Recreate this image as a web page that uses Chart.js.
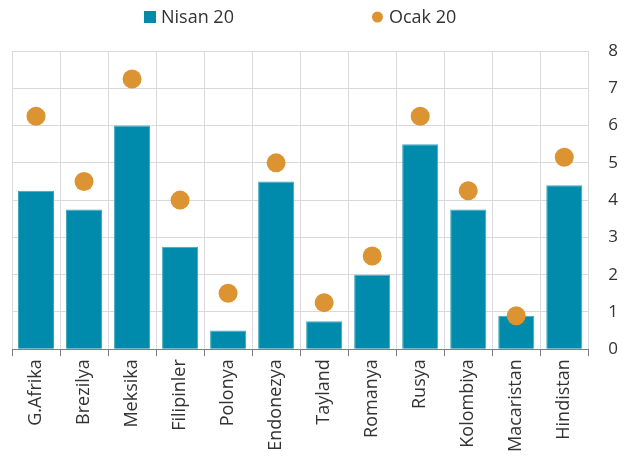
<!DOCTYPE html>
<html>
<head>
<meta charset="utf-8">
<script src="https://cdn.jsdelivr.net/npm/chart.js@4"></script>
<style>
  html, body { margin: 0; padding: 0; background: #fff; }
  #wrap { width: 638px; height: 461px; }
</style>
</head>
<body>
<div id="wrap"><canvas id="chart"></canvas></div>
<script>
const categories = ['G.Afrika', 'Brezilya', 'Meksika', 'Filipinler', 'Polonya', 'Endonezya',
  'Tayland', 'Romanya', 'Rusya', 'Kolombiya', 'Macaristan', 'Hindistan'];
const nisan20 = [4.25, 3.75, 6.0, 2.75, 0.5, 4.5, 0.75, 2.0, 5.5, 3.75, 0.9, 4.4];
const ocak20 = [6.25, 4.5, 7.25, 4.0, 1.5, 5.0, 1.25, 2.5, 6.25, 4.25, 0.9, 5.15];
const yTicks = [0, 1, 2, 3, 4, 5, 6, 7, 8];

const textColor = '#333333';
const barColor = '#008aab';
const dotColor = '#dc9432';

// legend drawn by hand: the built-in one can't leave a wide gap between items
const topLegend = {
  id: 'topLegend',
  afterDraw(chart) {
    const ctx = chart.ctx;
    const area = chart.chartArea;
    const items = [
      { text: chart.data.datasets[1].label, color: barColor, shape: 'rect' },
      { text: chart.data.datasets[0].label, color: dotColor, shape: 'circle' }
    ];
    const gap = 138;
    ctx.save();
    ctx.font = '18px "Open Sans"';
    ctx.textBaseline = 'middle';
    const widths = items.map(it => 17 + ctx.measureText(it.text).width);
    const total = widths.reduce((a, b) => a + b, 0) + gap;
    let x = (area.left + area.right) / 2 - total / 2;
    const y = 17;
    items.forEach((it, i) => {
      ctx.fillStyle = it.color;
      if (it.shape === 'rect') {
        ctx.fillRect(x, y - 6, 12, 12);
      } else {
        ctx.beginPath();
        ctx.arc(x + 5.5, y, 5.5, 0, Math.PI * 2);
        ctx.fill();
      }
      ctx.fillStyle = textColor;
      ctx.fillText(it.text, x + 17, y + 1);
      x += widths[i] + gap;
    });
    ctx.restore();
  }
};

// dots come first so they are painted over the bars
new Chart(document.getElementById('chart'), {
  data: {
    labels: categories,
    datasets: [
      {
        type: 'line',
        label: 'Ocak 20',
        data: ocak20,
        showLine: false,
        pointStyle: 'circle',
        pointRadius: 9.5,
        pointBackgroundColor: dotColor,
        pointBorderWidth: 0,
        backgroundColor: dotColor,
        borderColor: dotColor
      },
      {
        type: 'bar',
        label: 'Nisan 20',
        data: nisan20,
        backgroundColor: barColor,
        borderColor: '#3ea6bf',
        borderWidth: 1,
        barPercentage: 0.75,
        categoryPercentage: 1
      }
    ]
  },
  options: {
    responsive: true,
    maintainAspectRatio: false,
    animation: false,
    layout: { padding: { left: 12, right: 0, top: 51, bottom: 6 } },
    plugins: {
      legend: { display: false },
      tooltip: { enabled: false }
    },
    scales: {
      x: {
        grid: {
          offset: true,
          color: '#d9d9d9',
          tickColor: '#7f7f7f',
          tickLength: 7
        },
        border: { color: '#7f7f7f' },
        ticks: {
          minRotation: 90,
          maxRotation: 90,
          color: textColor,
          font: { family: 'Open Sans', size: 18 },
          padding: 3
        }
      },
      y: {
        position: 'right',
        min: 0,
        max: 8,
        afterBuildTicks: (axis) => { axis.ticks = yTicks.map(v => ({ value: v })); },
        grid: { color: '#d9d9d9', drawTicks: false },
        border: { display: false },
        ticks: { color: textColor, font: { family: 'Open Sans', size: 17 }, padding: 20 }
      }
    }
  },
  plugins: [topLegend]
});
</script>
</body>
</html>
